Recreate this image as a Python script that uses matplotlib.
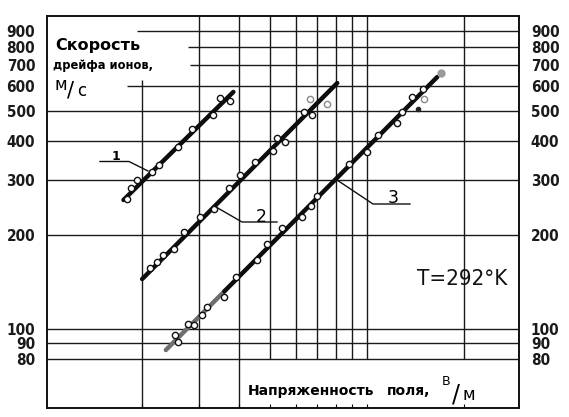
import matplotlib
matplotlib.use("Agg")
import matplotlib.pyplot as plt
from matplotlib.lines import Line2D
from matplotlib.ticker import NullLocator, FixedLocator

# ---------------- data ----------------
# fitted lines: field strength (arb. log units) vs ion drift velocity, m/s
line1_E = [1.75, 3.84]
line1_v = [259, 575]
line2_E = [2.0, 8.07]
line2_v = [144.5, 614]
line3_E = [2.37, 3.6, 16.5]          # lower part appears grey in the scan
line3_v = [85.6, 132, 642]

pts1_E = [1.79, 1.85, 1.93, 2.14, 2.26, 2.58, 2.85, 3.31, 3.48, 3.75]
pts1_v = [260, 284, 300, 319, 335, 384, 437, 485, 549, 539]

pts2_E = [2.12, 2.22, 2.33, 2.52, 2.70, 3.03, 3.35, 3.72, 4.03, 4.47, 5.09, 5.24, 5.57, 6.37, 6.73]
pts2_v = [157, 164, 173, 180, 205, 229, 242, 282, 311, 342, 372, 409, 398, 495, 485]
pts2_faint_E = [6.65, 7.52]
pts2_faint_v = [546, 525]

pts3_E = [2.53, 2.59, 2.78, 2.89, 3.06, 3.19, 3.58, 3.92, 4.56, 4.88, 5.43, 6.27, 6.70, 6.97,
          8.79, 10.0, 10.8, 12.4, 12.8, 13.8, 14.9]
pts3_v = [95.7, 91.0, 104, 103, 111, 118, 127, 147, 166, 187, 210, 229, 247, 267,
          338, 370, 419, 456, 497, 555, 587]
pts3_faint_E = [15.0]
pts3_faint_v = [545]
pts3_dot_E = [14.4]
pts3_dot_v = [506]
pts3_blob_E = [17.0]
pts3_blob_v = [660]

y_grid = [80, 90, 100, 200, 300, 400, 500, 600, 700, 800, 900]
y_labels = ["80", "90", "100", "200", "300", "400", "500", "600", "700", "800", "900"]
x_grid = [2, 3, 4, 5, 6, 7, 8, 9, 10, 20]

line_labels = ["1", "2", "3"]
temp_text = "T=292°K"
ylabel_lines = ["Скорость", "дрейфа ионов,"]
xlabel_text = ["Напряженность", "поля,"]

# ---------------- figure ----------------
W, H = 569, 417
fig = plt.figure(figsize=(W / 100, H / 100), dpi=100)
fig.patch.set_facecolor("white")

def fx(x):
    return x / W

def fy(y):
    return 1 - y / H

ax = fig.add_axes([fx(47), fy(408), (519 - 47) / W, (408 - 16) / H])
ax.set_xscale("log")
ax.set_yscale("log")
ax.set_xlim(1.013, 29.6)
ax.set_ylim(55.8, 1007)

for s in ax.spines.values():
    s.set_linewidth(1.4)
    s.set_color("#111111")

NUMF = ["DejaVu Sans"]

# y ticks / labels on both sides
ax.yaxis.set_major_locator(FixedLocator(y_grid))
ax.yaxis.set_minor_locator(NullLocator())
ax.set_yticklabels(y_labels)
ax.tick_params(axis="y", length=0, pad=8.5, labelleft=True, labelright=True,
               labelsize=11)
for lab in ax.get_yticklabels():
    lab.set_fontfamily(NUMF)
    lab.set_fontweight("bold")
    lab.set_fontstretch("condensed")
    lab.set_color("#1a1a1a")

# x: no labels, small inward ticks
ax.xaxis.set_major_locator(FixedLocator(x_grid))
ax.xaxis.set_minor_locator(NullLocator())
ax.set_xticklabels([])
ax.tick_params(axis="x", direction="in", length=3, width=0.8)

# ---------------- partial grid (nomogram style) ----------------
gk = dict(color="#1a1a1a", lw=1.0, zorder=1)
h_start = {900: 1.93, 800: 2.78, 700: 2.82, 600: 1.80}
x0, x1 = ax.get_xlim()
y0, y1 = ax.get_ylim()
for yv in y_grid:
    ax.hlines(yv, h_start.get(yv, x0), x1, **gk)
v_range = {2: (y0, 628), 3: (y0, y1), 4: (y0, y1)}
for xv in x_grid:
    lo, hi = v_range.get(xv, (80, y1))
    ax.vlines(xv, lo, hi, **gk)

# ---------------- lines and points ----------------
lk = dict(color="#0d0d0d", lw=3.2, solid_capstyle="round", zorder=3)
ax.plot(line1_E, line1_v, **lk)
ax.plot(line2_E, line2_v, **lk)
ax.plot(line3_E[:2], line3_v[:2], color="#6e6e6e", lw=3.2, solid_capstyle="round", zorder=3)
ax.plot(line3_E[1:], line3_v[1:], **lk)

mk = dict(ls="none", marker="o", ms=4.5, mfc="white", mec="#111111", mew=1.0, zorder=4)
ax.plot(pts1_E, pts1_v, **mk)
ax.plot(pts2_E, pts2_v, **mk)
ax.plot(pts3_E, pts3_v, **mk)
mkf = dict(mk, mec="#8a8a8a")
ax.plot(pts2_faint_E, pts2_faint_v, **mkf)
ax.plot(pts3_faint_E, pts3_faint_v, **mkf)
ax.plot(pts3_dot_E, pts3_dot_v, ls="none", marker="o", ms=3, color="#222222", zorder=4)
ax.plot(pts3_blob_E, pts3_blob_v, ls="none", marker="o", ms=5, color="#9a9a9a", zorder=4)

# ---------------- leader lines & curve numbers ----------------
def leader(pts):
    xs = [fx(p[0]) for p in pts]
    ys = [fy(p[1]) for p in pts]
    fig.add_artist(Line2D(xs, ys, transform=fig.transFigure, color="#111111", lw=1.0, zorder=5))

leader([(100, 161.5), (129, 161.5), (148, 171)])
leader([(216, 207), (242, 222), (277, 222)])
leader([(337, 180), (373, 204), (410, 204)])

fig.text(fx(111.5), fy(160.5), line_labels[0], fontsize=9, fontweight="bold",
         ha="left", va="baseline", family=NUMF)
fig.text(fx(256), fy(222.5), line_labels[1], fontsize=12.5, ha="left", va="baseline",
         family=NUMF)
fig.text(fx(388), fy(203), line_labels[2], fontsize=12.5, ha="left", va="baseline",
         family=NUMF)

# ---------------- text ----------------
fig.text(fx(55), fy(50), ylabel_lines[0], fontsize=11.5, fontweight="bold",
         ha="left", va="baseline")
fig.text(fx(53), fy(68.5), ylabel_lines[1], fontsize=8.3, fontweight="bold",
         ha="left", va="baseline")
fig.text(fx(55), fy(90), "м", fontsize=12, ha="left", va="baseline")
fig.text(fx(67), fy(97), "/", fontsize=15, ha="left", va="baseline")
fig.text(fx(77), fy(96), "с", fontsize=12, ha="left", va="baseline")

fig.text(fx(248), fy(395), xlabel_text[0], fontsize=10, fontweight="bold",
         ha="left", va="baseline")
fig.text(fx(387), fy(395), xlabel_text[1], fontsize=10, fontweight="bold",
         ha="left", va="baseline")
fig.text(fx(442), fy(385), "В", fontsize=9, ha="left", va="baseline")
fig.text(fx(452), fy(402), "/", fontsize=17, ha="left", va="baseline")
fig.text(fx(463), fy(400), "м", fontsize=12, ha="left", va="baseline")

fig.text(fx(417), fy(285), temp_text, fontsize=16, ha="left", va="baseline",
         family=NUMF, fontstretch="condensed", color="#111111")

fig.savefig("out.png", dpi=100, facecolor="white")
